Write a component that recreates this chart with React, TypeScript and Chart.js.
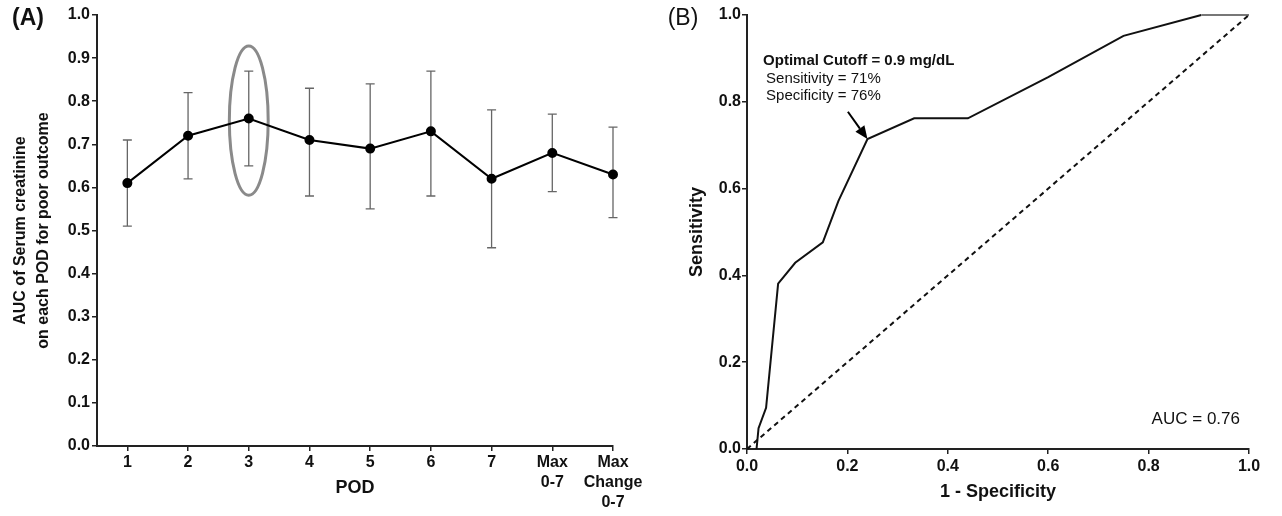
import React, { useEffect, useRef } from 'react';
import { Chart, registerables } from 'chart.js';

Chart.register(...registerables);

// ---------- Data: panel A ----------
const podLabels: string[][] = [['1'], ['2'], ['3'], ['4'], ['5'], ['6'], ['7'], ['Max', '0-7'], ['Max', 'Change', '0-7']];
const podAuc = [0.61, 0.72, 0.76, 0.71, 0.69, 0.73, 0.62, 0.68, 0.63];
const podLower = [0.51, 0.62, 0.65, 0.58, 0.55, 0.58, 0.46, 0.59, 0.53];
const podUpper = [0.71, 0.82, 0.87, 0.83, 0.84, 0.87, 0.78, 0.77, 0.74];
const highlightedPod = 3;

// ---------- Data: panel B ----------
const rocFpr = [0.019, 0.023, 0.038, 0.062, 0.096, 0.151, 0.182, 0.24, 0.333, 0.44, 0.6, 0.75, 0.905, 1.0];
const rocTpr = [0.0, 0.048, 0.095, 0.381, 0.429, 0.476, 0.571, 0.714, 0.762, 0.762, 0.857, 0.952, 1.0, 1.0];
const refFpr = [0, 1];
const refTpr = [0, 1];
const cutoffFpr = 0.24;
const cutoffTpr = 0.714;
const cutoffTitle = 'Optimal Cutoff = 0.9 mg/dL';
const cutoffLines = ['Sensitivity = 71%', 'Specificity = 76%'];
const aucText = 'AUC = 0.76';

const FONT = "'Liberation Sans', Arial, Helvetica, sans-serif";
const TEXT = '#111';
const AXIS = '#222';

function PanelA() {
  const ref = useRef<HTMLCanvasElement>(null);
  useEffect(() => {
    const canvas = ref.current!;
    const errorBars = {
      id: 'errorBarsA',
      beforeDatasetsDraw(chart: any) {
        const { ctx, scales } = chart;
        const xs = scales.x, ys = scales.y;
        ctx.save();
        // ellipse highlight
        const cx = xs.getPixelForValue(highlightedPod);
        const cy = ys.getPixelForValue(0.755);
        const rx = Math.abs(xs.getPixelForValue(highlightedPod + 0.32) - cx);
        const ry = Math.abs(ys.getPixelForValue(0.755 + 0.173) - cy);
        ctx.strokeStyle = '#8a8a8a';
        ctx.lineWidth = 3;
        ctx.beginPath();
        ctx.ellipse(cx, cy, rx, ry, 0, 0, Math.PI * 2);
        ctx.stroke();
        // error bars
        ctx.strokeStyle = '#666';
        ctx.lineWidth = 1.3;
        podAuc.forEach((_, i) => {
          const x = xs.getPixelForValue(i + 1);
          const yl = ys.getPixelForValue(podLower[i]);
          const yu = ys.getPixelForValue(podUpper[i]);
          ctx.beginPath();
          ctx.moveTo(x, yl); ctx.lineTo(x, yu);
          ctx.moveTo(x - 4.5, yl); ctx.lineTo(x + 4.5, yl);
          ctx.moveTo(x - 4.5, yu); ctx.lineTo(x + 4.5, yu);
          ctx.stroke();
        });
        ctx.restore();
      },
      afterDraw(chart: any) {
        const { ctx } = chart;
        ctx.save();
        ctx.fillStyle = TEXT;
        ctx.font = `bold 23px ${FONT}`;
        ctx.textAlign = 'center';
        ctx.textBaseline = 'middle';
        ctx.fillText('(A)', 28, 19);
        ctx.restore();
      },
    };
    const chart = new Chart(canvas, {
      type: 'scatter',
      data: {
        datasets: [
          {
            data: podAuc.map((v, i) => ({ x: i + 1, y: v })),
            showLine: true,
            clip: false,
            borderColor: '#000',
            borderWidth: 2,
            pointRadius: 4,
            pointBackgroundColor: '#000',
            pointBorderColor: '#000',
            tension: 0,
          },
        ],
      },
      options: {
        animation: false,
        responsive: true,
        maintainAspectRatio: false,
        events: [],
        layout: { padding: { left: 0, right: 37, top: 15, bottom: 0 } },
        plugins: { legend: { display: false }, tooltip: { enabled: false } },
        scales: {
          x: {
            type: 'linear',
            min: 0.5,
            max: 9,
            afterBuildTicks: (s: any) => {
              s.ticks = podAuc.map((_, i) => ({ value: i + 1 }));
            },
            afterFit: (s: any) => { s.height = 70; },
            ticks: {
              autoSkip: false,
              maxRotation: 0,
              minRotation: 0,
              padding: 2,
              color: TEXT,
              font: { family: FONT, size: 16, weight: 'bold', lineHeight: 1.25 },
              callback: (v: any) => podLabels[Math.round(Number(v)) - 1] || '',
            },
            grid: { display: true, drawOnChartArea: false, drawTicks: true, tickLength: 5, color: AXIS, lineWidth: 1.5 },
            border: { display: true, color: AXIS, width: 2 },
            title: {
              display: true,
              text: 'POD',
              color: TEXT,
              font: { family: FONT, size: 18, weight: 'bold', lineHeight: 1.1 },
              padding: { top: 0, bottom: 18 },
            },
          },
          y: {
            type: 'linear',
            min: 0,
            max: 1,
            afterFit: (s: any) => { s.width = 97; },
            ticks: {
              stepSize: 0.1,
              padding: 2,
              color: TEXT,
              font: { family: FONT, size: 16, weight: 'bold' },
              callback: (v: any) => Number(v).toFixed(1),
            },
            grid: { display: true, drawOnChartArea: false, drawTicks: true, tickLength: 5, color: AXIS, lineWidth: 1.5 },
            border: { display: true, color: AXIS, width: 2 },
            title: {
              display: true,
              text: ['AUC of Serum creatinine', 'on each POD for poor outcome'],
              color: TEXT,
              font: { family: FONT, size: 16, weight: 'bold', lineHeight: 23 / 16 },
              padding: { top: 9, bottom: 0 },
            },
          },
        },
      } as any,
      plugins: [errorBars],
    });
    return () => chart.destroy();
  }, []);
  return (
    <div style={{ position: 'absolute', left: 0, top: 0, width: 650, height: 516 }}>
      <canvas ref={ref} />
    </div>
  );
}

function PanelB() {
  const ref = useRef<HTMLCanvasElement>(null);
  useEffect(() => {
    const canvas = ref.current!;
    const notes = {
      id: 'notesB',
      afterDraw(chart: any) {
        const { ctx, scales } = chart;
        const xs = scales.x, ys = scales.y;
        ctx.save();
        ctx.fillStyle = TEXT;
        ctx.textBaseline = 'middle';
        ctx.textAlign = 'left';
        ctx.font = `bold 15px ${FONT}`;
        ctx.fillText(cutoffTitle, xs.getPixelForValue(0.032), ys.getPixelForValue(0.894));
        ctx.font = `15px ${FONT}`;
        ctx.fillText(cutoffLines[0], xs.getPixelForValue(0.038), ys.getPixelForValue(0.853));
        ctx.fillText(cutoffLines[1], xs.getPixelForValue(0.038), ys.getPixelForValue(0.813));
        // arrow
        const tx = xs.getPixelForValue(cutoffFpr), ty = ys.getPixelForValue(cutoffTpr);
        const sx = xs.getPixelForValue(0.201), sy = ys.getPixelForValue(0.777);
        const ang = Math.atan2(ty - sy, tx - sx);
        const hl = 13, hw = 5.5;
        const bx = tx - hl * Math.cos(ang), by = ty - hl * Math.sin(ang);
        ctx.strokeStyle = '#000';
        ctx.lineWidth = 2;
        ctx.beginPath();
        ctx.moveTo(sx, sy);
        ctx.lineTo(bx, by);
        ctx.stroke();
        ctx.fillStyle = '#000';
        ctx.beginPath();
        ctx.moveTo(tx, ty);
        ctx.lineTo(bx + hw * Math.sin(ang), by - hw * Math.cos(ang));
        ctx.lineTo(bx - hw * Math.sin(ang), by + hw * Math.cos(ang));
        ctx.closePath();
        ctx.fill();
        // AUC
        ctx.fillStyle = TEXT;
        ctx.font = `17px ${FONT}`;
        ctx.textAlign = 'right';
        ctx.fillText(aucText, xs.getPixelForValue(0.982), ys.getPixelForValue(0.069));
        // panel label
        ctx.font = `23px ${FONT}`;
        ctx.textAlign = 'center';
        ctx.fillText('(B)', 33, 19);
        ctx.restore();
      },
    };
    const lastSeg = rocFpr.length - 2;
    const chart = new Chart(canvas, {
      type: 'scatter',
      data: {
        datasets: [
          {
            data: refFpr.map((x, i) => ({ x, y: refTpr[i] })),
            showLine: true,
            clip: false,
            borderColor: '#111',
            borderWidth: 2,
            borderDash: [5, 4],
            pointRadius: 0,
          },
          {
            data: rocFpr.map((x, i) => ({ x, y: rocTpr[i] })),
            showLine: true,
            clip: false,
            borderColor: '#111',
            borderWidth: 2,
            pointRadius: 0,
            tension: 0,
            segment: {
              borderColor: (c: any) => (c.p0DataIndex >= lastSeg ? '#777' : '#111'),
            },
          },
        ],
      },
      options: {
        animation: false,
        responsive: true,
        maintainAspectRatio: false,
        events: [],
        layout: { padding: { left: 0, right: 33, top: 15, bottom: 0 } },
        plugins: { legend: { display: false }, tooltip: { enabled: false } },
        scales: {
          x: {
            type: 'linear',
            min: 0,
            max: 1,
            afterFit: (s: any) => { s.height = 67; },
            ticks: {
              stepSize: 0.2,
              maxRotation: 0,
              padding: 3,
              color: TEXT,
              font: { family: FONT, size: 16, weight: 'bold', lineHeight: 1.25 },
              callback: (v: any) => Number(v).toFixed(1),
            },
            grid: { display: true, drawOnChartArea: false, drawTicks: true, tickLength: 5, color: AXIS, lineWidth: 1.5 },
            border: { display: true, color: AXIS, width: 2 },
            title: {
              display: true,
              text: '1 - Specificity',
              color: TEXT,
              font: { family: FONT, size: 18, weight: 'bold', lineHeight: 1.1 },
              padding: { top: 0, bottom: 14 },
            },
          },
          y: {
            type: 'linear',
            min: 0,
            max: 1,
            afterFit: (s: any) => { s.width = 97; },
            ticks: {
              stepSize: 0.2,
              padding: 1,
              color: TEXT,
              font: { family: FONT, size: 16, weight: 'bold' },
              callback: (v: any) => Number(v).toFixed(1),
            },
            grid: { display: true, drawOnChartArea: false, drawTicks: true, tickLength: 5, color: AXIS, lineWidth: 1.5 },
            border: { display: true, color: AXIS, width: 2 },
            title: {
              display: true,
              text: 'Sensitivity',
              color: TEXT,
              font: { family: FONT, size: 18, weight: 'bold', lineHeight: 20 / 18 },
              padding: { top: 37, bottom: 0 },
            },
          },
        },
      } as any,
      plugins: [notes],
    });
    return () => chart.destroy();
  }, []);
  return (
    <div style={{ position: 'absolute', left: 650, top: 0, width: 632, height: 516 }}>
      <canvas ref={ref} />
    </div>
  );
}

export default function App() {
  return (
    <div style={{ position: 'absolute', left: 0, top: 0, width: 1282, height: 516, background: '#fff' }}>
      <PanelA />
      <PanelB />
    </div>
  );
}
